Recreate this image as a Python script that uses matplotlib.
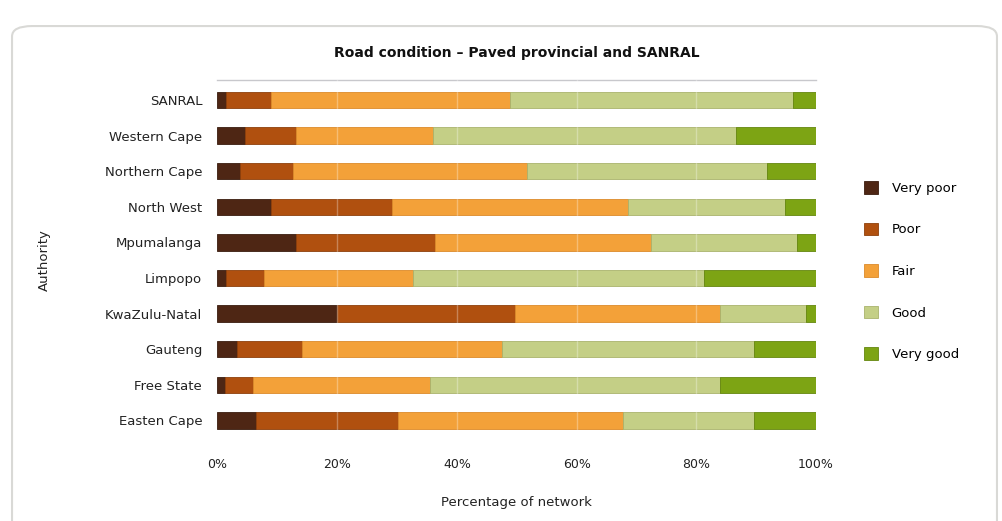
import matplotlib.pyplot as plt
import numpy as np
from matplotlib.patches import FancyBboxPatch

plt.rcParams['font.family'] = ['DejaVu Sans']

# authorities, bottom to top
authorities = ['Easten Cape', 'Free State', 'Gauteng', 'KwaZulu-Natal', 'Limpopo',
               'Mpumalanga', 'North West', 'Northern Cape', 'Western Cape', 'SANRAL']

# percentage of network per condition class
very_poor = [6.5, 1.2, 3.3, 19.9, 1.5, 13.2, 9.0, 3.8, 4.6, 1.5]
poor      = [23.7, 4.8, 10.8, 29.8, 6.2, 23.1, 20.1, 8.9, 8.6, 7.4]
fair      = [37.6, 29.5, 33.4, 34.3, 25.0, 36.2, 39.5, 39.0, 22.8, 40.0]
good      = [21.8, 48.5, 42.1, 14.3, 48.5, 24.3, 26.2, 40.1, 50.7, 47.3]
very_good = [10.4, 16.0, 10.4, 1.7, 18.8, 3.2, 5.2, 8.2, 13.3, 3.8]

classes = ['Very poor', 'Poor', 'Fair', 'Good', 'Very good']
colors = ['#4e2614', '#b0500f', '#f3a139', '#c4cf86', '#7da414']
edges = ['#3a1c0e', '#8e3f0c', '#dc8a2a', '#a9b36c', '#64860f']

fig = plt.figure(figsize=(10.03, 5.21), dpi=100)
fig.patch.set_facecolor('white')

# rounded frame around the chart
frame = FancyBboxPatch((0.012, -0.02), 0.982, 0.97, boxstyle='round,pad=0,rounding_size=0.02',
                       transform=fig.transFigure, facecolor='white', edgecolor='#d9d9d6',
                       linewidth=1.5, zorder=-5)
fig.patches.append(frame)

ax = fig.add_axes([0.2168, 0.1555, 0.5968, 0.691])
ax.set_zorder(2)
ax.set_facecolor('none')

y = np.arange(len(authorities))
left = np.zeros(len(authorities))
for name, vals, c, ec in zip(classes, [very_poor, poor, fair, good, very_good], colors, edges):
    ax.barh(y, vals, left=left, height=0.46, color=c, label=name,
            edgecolor=ec, linewidth=0.6, zorder=2)
    left += np.array(vals)

for gx in [20, 40, 60, 80]:
    ax.axvline(gx, color='white', alpha=0.3, linewidth=1, zorder=3)

ax.set_xlim(0, 100)
ax.set_ylim(-0.55, 9.56)
ax.set_yticks(y)
ax.set_yticklabels(authorities, fontsize=9.5, color='#222222')
ax.set_xticks([0, 20, 40, 60, 80, 100])
ax.set_xticklabels(['0%', '20%', '40%', '60%', '80%', '100%'], fontsize=9, color='#222222')
ax.tick_params(axis='y', length=0, pad=11)
ax.tick_params(axis='x', length=0, pad=13)
for s in ['left', 'right', 'bottom']:
    ax.spines[s].set_visible(False)
ax.spines['top'].set_color('#c8c8cc')
ax.spines['top'].set_linewidth(1)

ax.set_xlabel('Percentage of network', fontsize=9.5, color='#222222', labelpad=18)
ax.set_ylabel('Authority', fontsize=9.5, color='#222222', labelpad=39)
fig.text(0.515, 0.898, 'Road condition – Paved provincial and SANRAL', ha='center', va='center',
         fontsize=10, fontweight='bold', color='#111111')

ax.legend(loc='upper left', bbox_to_anchor=(1.06, 0.752), frameon=False, fontsize=9.5,
          handlelength=1.1, handleheight=1.1, labelspacing=2.1, handletextpad=1.0)

fig.savefig('out.png', dpi=100)
